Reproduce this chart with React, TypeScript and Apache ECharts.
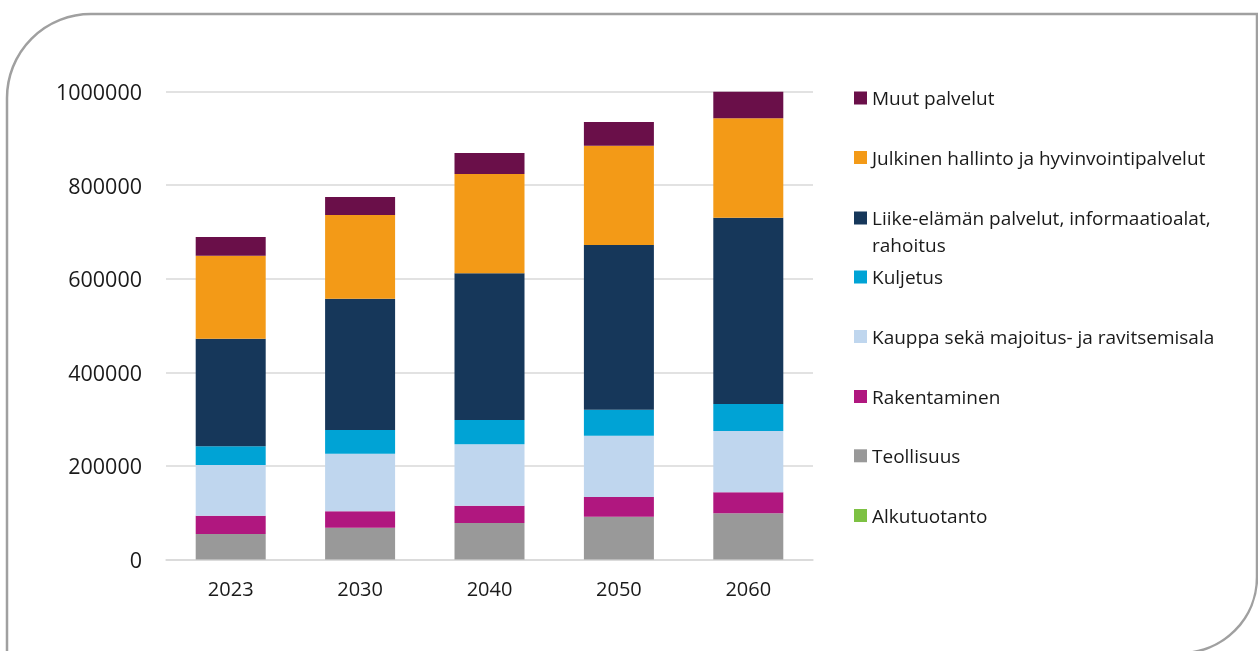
import React, { useEffect, useRef } from "react";
import * as echarts from "echarts";

const categories = ["2023", "2030", "2040", "2050", "2060"];

const seriesNames = [
  "Alkutuotanto",
  "Teollisuus",
  "Rakentaminen",
  "Kauppa sekä majoitus- ja ravitsemisala",
  "Kuljetus",
  "Liike-elämän palvelut, informaatioalat, rahoitus",
  "Julkinen hallinto ja hyvinvointipalvelut",
  "Muut palvelut",
];

const alkutuotanto = [0, 0, 0, 0, 0];
const teollisuus = [54500, 68000, 78000, 91500, 98700];
const rakentaminen = [39100, 35000, 37000, 42100, 44900];
const kauppa = [108400, 123100, 131200, 131000, 131000];
const kuljetus = [40000, 50600, 51900, 55600, 57700];
const liike = [229900, 280600, 313500, 351900, 398100];
const julkinen = [177300, 178900, 212200, 212200, 212400];
const muut = [40000, 38500, 44900, 50700, 56900];

const seriesValues = [alkutuotanto, teollisuus, rakentaminen, kauppa, kuljetus, liike, julkinen, muut];

const colors = ["#7dc143", "#999999", "#b0177f", "#bfd6ee", "#00a3d5", "#16375a", "#f39a17", "#6a0f49"];

// legend order top-to-bottom and icon centre y
const legendOrder = [7, 6, 5, 4, 3, 2, 1, 0];
const legendCenters = [98, 157.5, 218, 277, 336.5, 396.5, 455.8, 515.5];

const yMax = 1000000;
const yInterval = 200000;

export default function App() {
  const ref = useRef<HTMLDivElement>(null);
  useEffect(() => {
    if (!ref.current) return;
    const chart = echarts.init(ref.current, null, { renderer: "svg" });
    const font = "'Open Sans', sans-serif";
    const legends = legendOrder.map((si, i) => {
      const name = seriesNames[si];
      const multi = name.startsWith("Liike");
      return {
        show: true,
        orient: "vertical",
        left: 854,
        top: multi ? legendCenters[i] - 40.5 : legendCenters[i] - 12,
        padding: 0,
        itemWidth: 13,
        itemHeight: 13,
        icon: "rect",
        selectedMode: false,
        data: [name],
        formatter: multi ? () => " \nLiike-elämän palvelut, informaatioalat,\nrahoitus" : undefined,
        textStyle: {
          fontFamily: font,
          fontSize: 19,
          color: "#1a1a1a",
          lineHeight: multi ? 27 : 24,
        },
      };
    });
    chart.setOption({
      animation: false,
      graphic: [
        {
          type: "rect",
          z: -10,
          shape: { x: 7, y: 14, width: 1250, height: 639, r: [84, 0, 76, 0] },
          style: { fill: "none", stroke: "#a0a0a0", lineWidth: 2.5 },
          silent: true,
        },
      ],
      grid: { left: 166, right: 445, top: 91.5, bottom: 91.5, containLabel: false },
      legend: legends,
      xAxis: {
        type: "category",
        data: categories,
        axisLine: { show: true, lineStyle: { color: "#d9d9d9", width: 1.5 } },
        axisTick: { show: false },
        axisLabel: { fontFamily: font, fontSize: 20, color: "#1a1a1a", margin: 19 },
      },
      yAxis: {
        type: "value",
        min: 0,
        max: yMax,
        interval: yInterval,
        axisLine: { show: false },
        axisTick: { show: false },
        splitLine: { lineStyle: { color: "#d9d9d9", width: 1.5 } },
        axisLabel: {
          fontFamily: font,
          fontSize: 21.5,
          color: "#1a1a1a",
          margin: 24,
          formatter: (v: number) => String(v),
        },
      },
      series: seriesNames.map((name, i) => ({
        name,
        type: "bar",
        stack: "total",
        barWidth: 70,
        data: seriesValues[i],
        itemStyle: { color: colors[i] },
      })),
    });
    return () => chart.dispose();
  }, []);
  return <div ref={ref} style={{ position: "fixed", left: 0, top: 0, width: 1258, height: 651 }} />;
}
